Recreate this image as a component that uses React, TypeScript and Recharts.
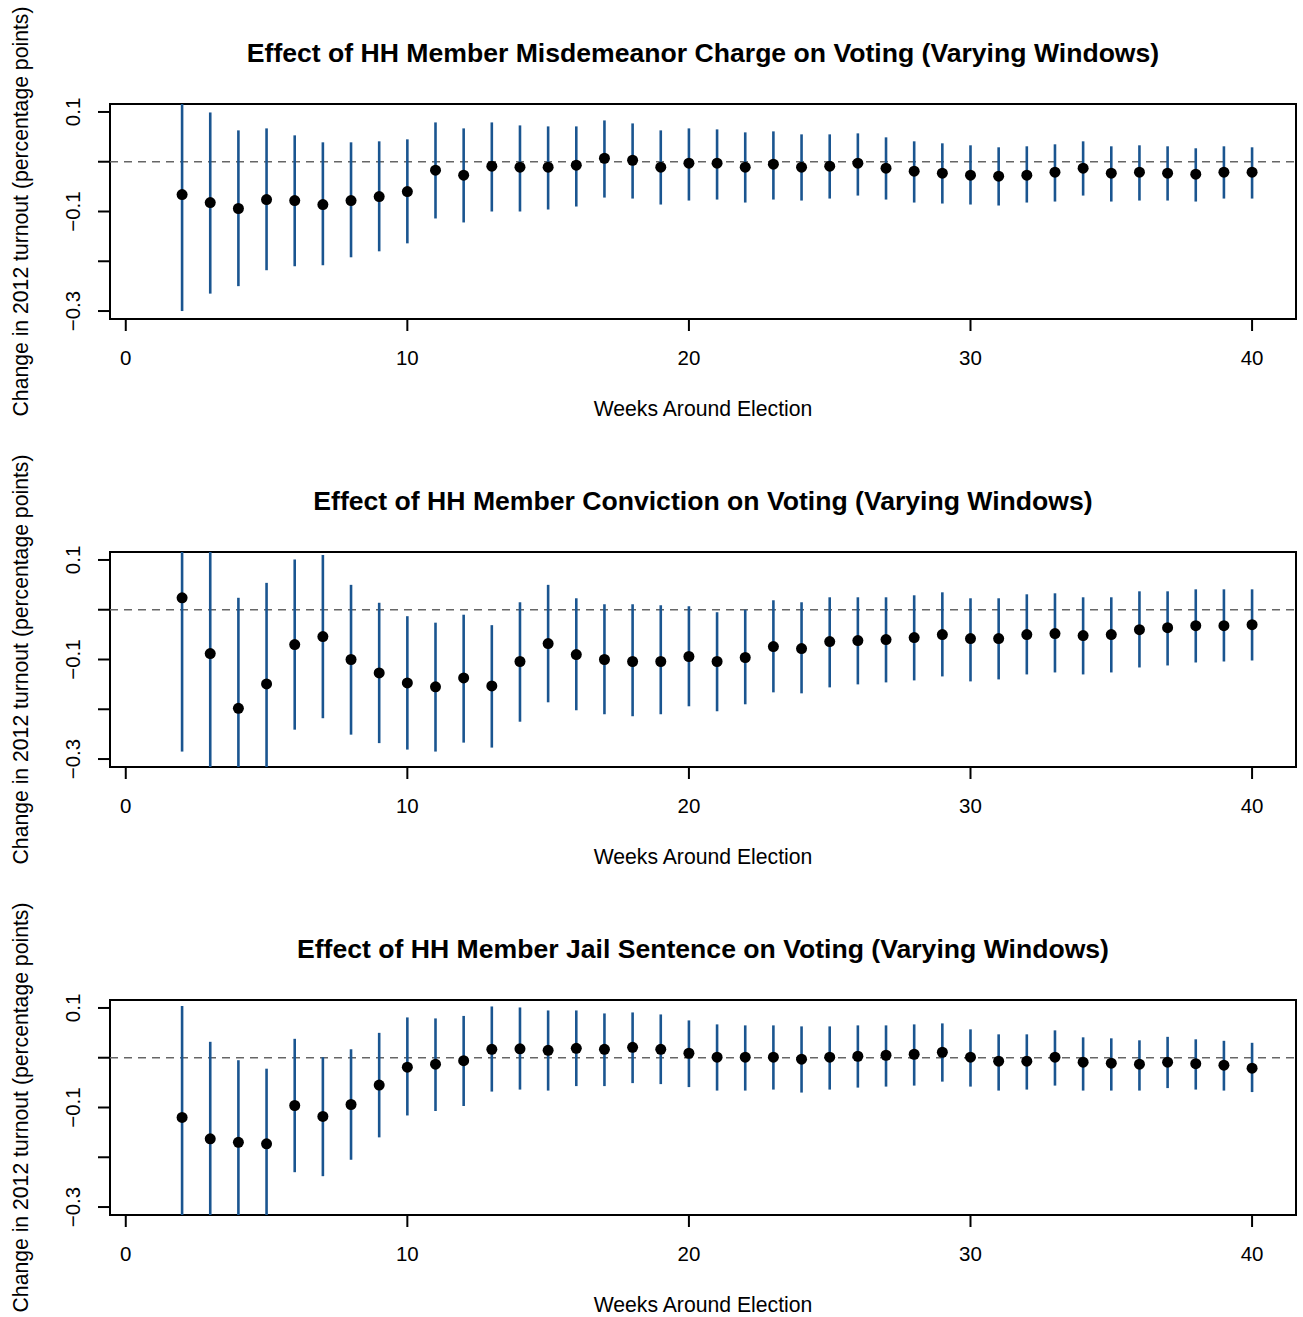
import React from "react";
import { ComposedChart, Scatter, ErrorBar, XAxis, YAxis, ReferenceLine, ReferenceArea, Label } from "recharts";

const weeks = [2, 3, 4, 5, 6, 7, 8, 9, 10, 11, 12, 13, 14, 15, 16, 17, 18, 19, 20, 21, 22, 23, 24, 25, 26, 27, 28, 29, 30, 31, 32, 33, 34, 35, 36, 37, 38, 39, 40];

const xTicks = [0, 10, 20, 30, 40];
const yTicks = [-0.3, -0.2, -0.1, 0, 0.1];
const yLabelled = [0.1, -0.1, -0.3];

const titles = [
  "Effect of HH Member Misdemeanor Charge on Voting (Varying Windows)",
  "Effect of HH Member Conviction on Voting (Varying Windows)",
  "Effect of HH Member Jail Sentence on Voting (Varying Windows)",
];
const xTitle = "Weeks Around Election";
const yTitle = "Change in 2012 turnout (percentage points)";

// misdemeanor charge
const misdEst = [-0.066, -0.082, -0.094, -0.076, -0.078, -0.086, -0.078, -0.070, -0.060, -0.017, -0.027, -0.009, -0.011, -0.011, -0.007, 0.007, 0.003, -0.011, -0.003, -0.003, -0.011, -0.005, -0.011, -0.009, -0.003, -0.013, -0.019, -0.023, -0.027, -0.029, -0.027, -0.021, -0.013, -0.023, -0.021, -0.023, -0.025, -0.021, -0.021];
const misdLo = [-0.300, -0.265, -0.250, -0.218, -0.210, -0.208, -0.192, -0.180, -0.164, -0.114, -0.122, -0.100, -0.100, -0.096, -0.090, -0.072, -0.074, -0.086, -0.078, -0.076, -0.082, -0.076, -0.078, -0.074, -0.068, -0.076, -0.082, -0.084, -0.086, -0.088, -0.082, -0.080, -0.068, -0.080, -0.078, -0.078, -0.080, -0.074, -0.074];
const misdHi = [0.168, 0.099, 0.063, 0.067, 0.053, 0.039, 0.039, 0.041, 0.045, 0.079, 0.067, 0.079, 0.073, 0.071, 0.071, 0.083, 0.077, 0.063, 0.067, 0.065, 0.059, 0.061, 0.055, 0.055, 0.057, 0.049, 0.041, 0.037, 0.033, 0.029, 0.031, 0.035, 0.041, 0.031, 0.033, 0.031, 0.027, 0.031, 0.029];

// conviction
const convEst = [0.024, -0.088, -0.198, -0.149, -0.070, -0.054, -0.100, -0.127, -0.147, -0.155, -0.137, -0.153, -0.104, -0.068, -0.090, -0.100, -0.104, -0.104, -0.094, -0.104, -0.096, -0.074, -0.078, -0.064, -0.062, -0.060, -0.056, -0.050, -0.058, -0.058, -0.050, -0.048, -0.052, -0.050, -0.040, -0.036, -0.032, -0.032, -0.030];
const convLo = [-0.285, -0.338, -0.420, -0.352, -0.241, -0.218, -0.251, -0.268, -0.281, -0.285, -0.267, -0.277, -0.225, -0.186, -0.202, -0.210, -0.214, -0.210, -0.194, -0.204, -0.190, -0.166, -0.168, -0.156, -0.150, -0.146, -0.142, -0.134, -0.144, -0.140, -0.130, -0.126, -0.130, -0.126, -0.116, -0.112, -0.106, -0.104, -0.102];
const convHi = [0.332, 0.162, 0.024, 0.054, 0.101, 0.110, 0.050, 0.014, -0.013, -0.026, -0.010, -0.031, 0.015, 0.050, 0.023, 0.011, 0.011, 0.009, 0.007, -0.005, 0.000, 0.019, 0.015, 0.025, 0.025, 0.025, 0.029, 0.035, 0.023, 0.023, 0.031, 0.033, 0.025, 0.025, 0.037, 0.037, 0.041, 0.041, 0.041];

// jail sentence
const jailEst = [-0.120, -0.163, -0.170, -0.173, -0.096, -0.118, -0.094, -0.055, -0.019, -0.013, -0.006, 0.017, 0.018, 0.015, 0.019, 0.017, 0.021, 0.017, 0.009, 0.001, 0.001, 0.001, -0.003, 0.001, 0.003, 0.005, 0.007, 0.011, 0.001, -0.007, -0.007, 0.001, -0.009, -0.011, -0.013, -0.009, -0.012, -0.015, -0.021];
const jailLo = [-0.344, -0.358, -0.335, -0.324, -0.230, -0.238, -0.205, -0.160, -0.116, -0.107, -0.097, -0.068, -0.064, -0.066, -0.057, -0.057, -0.051, -0.053, -0.059, -0.066, -0.066, -0.064, -0.070, -0.064, -0.060, -0.058, -0.056, -0.048, -0.058, -0.066, -0.064, -0.056, -0.066, -0.066, -0.066, -0.061, -0.064, -0.066, -0.069];
const jailHi = [0.104, 0.032, -0.005, -0.022, 0.038, 0.001, 0.017, 0.050, 0.081, 0.079, 0.084, 0.103, 0.101, 0.095, 0.095, 0.089, 0.091, 0.087, 0.075, 0.067, 0.065, 0.065, 0.063, 0.063, 0.065, 0.065, 0.067, 0.069, 0.057, 0.047, 0.047, 0.055, 0.041, 0.039, 0.035, 0.042, 0.037, 0.034, 0.030];

const X_DOMAIN = [-0.56, 41.56];
const Y_DOMAIN = [-0.316, 0.116];
const FONT = "'Liberation Sans', Arial, Helvetica, sans-serif";
const BLUE = "#1a5590";
const W = 1303;
const H = 448;

const fmt = (v: number) => (v < 0 ? "\u2212" + Math.abs(v) : String(v));

const XTick = (props: any) => (
  <text x={props.x} y={props.y} dy={34} textAnchor="middle" fontSize={20.5} fontFamily={FONT} fill="#000">
    {props.payload.value}
  </text>
);

const YTick = (props: any) => {
  const v = props.payload.value;
  if (!yLabelled.some((t) => Math.abs(t - v) < 1e-9)) return <g />;
  const bx = props.x - 18;
  return (
    <text x={bx} y={props.y} transform={`rotate(-90 ${bx} ${props.y})`} textAnchor="middle" fontSize={20.5} fontFamily={FONT} fill="#000">
      {fmt(v)}
    </text>
  );
};

const Dot = (props: any) => <circle cx={props.cx} cy={props.cy} r={5.5} fill="#000" />;
const NoDot = () => <g />;

function Panel({ title, est, lo, hi }: { title: string; est: number[]; lo: number[]; hi: number[] }) {
  // intervals are cut at the plot box, like R's clipping
  const data = weeks.map((w, i) => {
    const l = Math.max(lo[i], Y_DOMAIN[0]);
    const h = Math.min(hi[i], Y_DOMAIN[1]);
    return { week: w, est: est[i], err: [est[i] - l, h - est[i]] };
  });
  return (
    <ComposedChart width={W} height={H} margin={{ top: 104, right: 7, bottom: 0, left: 0 }}>
      <XAxis
        type="number"
        dataKey="week"
        domain={X_DOMAIN}
        allowDataOverflow
        ticks={xTicks}
        interval={0}
        axisLine={false}
        tickLine={{ stroke: "#000", strokeWidth: 2 }}
        tickSize={12}
        tickMargin={0}
        height={129}
        tick={XTick}
      >
        <Label
          content={(p: any) => (
            <text x={p.viewBox.x + p.viewBox.width / 2} y={p.viewBox.y + 96.7} textAnchor="middle" fontSize={21.2} fontFamily={FONT} fill="#000">
              {xTitle}
            </text>
          )}
        />
      </XAxis>
      <YAxis
        type="number"
        dataKey="est"
        domain={Y_DOMAIN}
        allowDataOverflow
        ticks={yTicks}
        interval={0}
        axisLine={false}
        tickLine={{ stroke: "#000", strokeWidth: 2 }}
        tickSize={12}
        tickMargin={0}
        width={110}
        tick={YTick}
      >
        <Label
          content={(p: any) => {
            const cy = p.viewBox.y + p.viewBox.height / 2;
            return (
              <text x={28.3} y={cy} transform={`rotate(-90 28.3 ${cy})`} textAnchor="middle" fontSize={21.2} fontFamily={FONT} fill="#000">
                {yTitle}
              </text>
            );
          }}
        />
      </YAxis>
      <ReferenceLine y={0} stroke="#666" strokeWidth={1.6} strokeDasharray="8 6" />
      <Scatter data={data} dataKey="est" shape={Dot} isAnimationActive={false} />
      <Scatter data={data} dataKey="est" shape={NoDot} isAnimationActive={false}>
        <ErrorBar dataKey="err" direction="y" width={0} stroke={BLUE} strokeWidth={2.6} isAnimationActive={false} />
      </Scatter>
      <ReferenceArea x1={X_DOMAIN[0]} x2={X_DOMAIN[1]} y1={Y_DOMAIN[0]} y2={Y_DOMAIN[1]} fill="none" stroke="#000" strokeWidth={2} fillOpacity={0}>
        <Label
          content={(p: any) => (
            <text x={p.viewBox.x + p.viewBox.width / 2} y={p.viewBox.y - 42.3} textAnchor="middle" fontSize={26.6} fontWeight="bold" fontFamily={FONT} fill="#000">
              {title}
            </text>
          )}
        />
      </ReferenceArea>
    </ComposedChart>
  );
}

export default function App() {
  const panels = [
    { est: misdEst, lo: misdLo, hi: misdHi },
    { est: convEst, lo: convLo, hi: convHi },
    { est: jailEst, lo: jailLo, hi: jailHi },
  ];
  return (
    <div style={{ position: "absolute", left: 0, top: 0, width: W, height: 1317, overflow: "hidden", background: "#fff" }}>
      {panels.map((p, i) => (
        <div key={i} style={{ position: "absolute", left: 0, top: i * H }}>
          <Panel title={titles[i]} est={p.est} lo={p.lo} hi={p.hi} />
        </div>
      ))}
    </div>
  );
}
